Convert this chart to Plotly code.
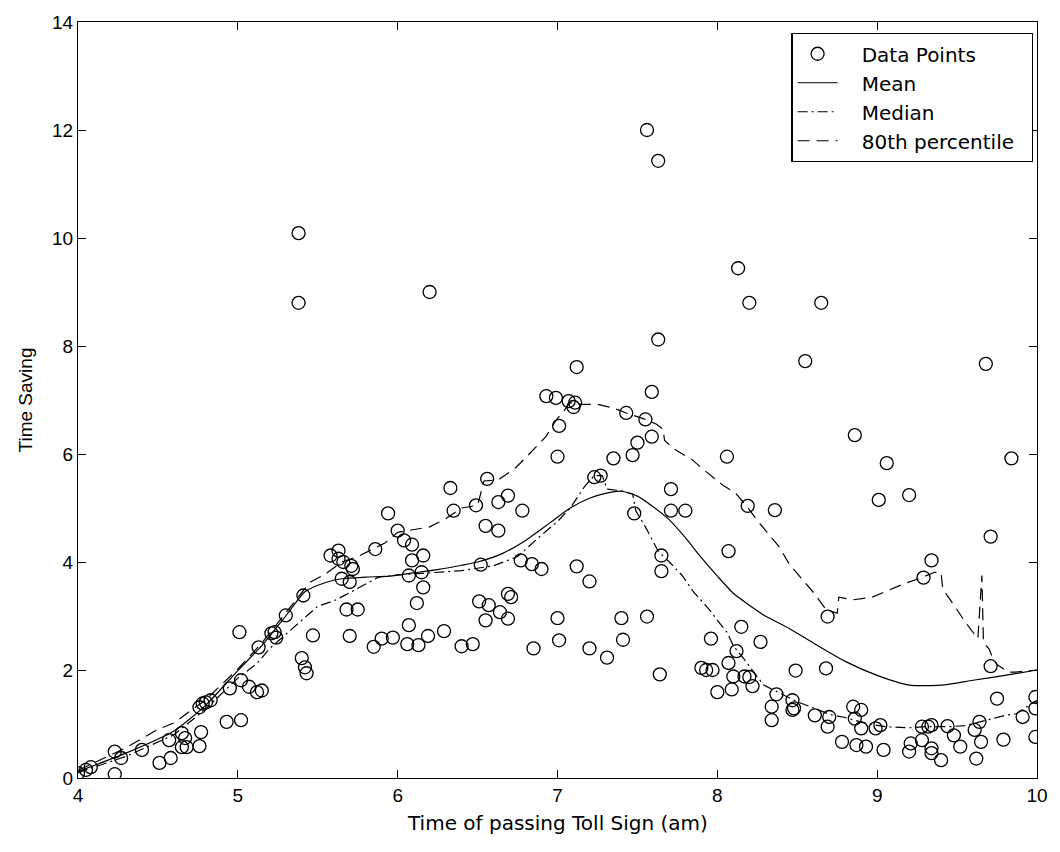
import plotly.graph_objects as go

# Observed time savings by time of passing the toll sign
pts_x = [4.00, 4.05, 4.08, 4.23, 4.23, 4.27, 4.40, 4.51, 4.58, 4.57, 4.65, 4.67, 4.65, 4.68,
         4.76, 4.77, 4.76, 4.78, 4.80, 4.83, 4.93, 5.02, 4.95, 5.02, 5.07, 5.12, 5.15, 5.01,
         5.13, 5.21, 5.24, 5.23, 5.30, 5.41, 5.40, 5.42, 5.43, 5.47,
         5.38, 5.38,
         5.58, 5.63, 5.63, 5.66, 5.71, 5.72, 5.65, 5.70, 5.68, 5.75, 5.70,
         5.86, 5.94, 6.00, 6.04, 6.09, 6.16, 6.09, 6.07, 6.15, 6.16, 6.12, 6.07, 5.85, 5.90,
         5.97, 6.06, 6.13, 6.19, 6.29, 6.20,
         6.33, 6.35, 6.49, 6.56, 6.63, 6.69, 6.78, 6.55, 6.63, 6.52, 6.77, 6.84, 6.90, 6.51,
         6.57, 6.64, 6.69, 6.55, 6.69, 6.71, 6.40, 6.47, 6.85,
         7.12, 6.93, 6.99, 7.07, 7.11, 7.10, 7.43, 7.55, 7.01, 7.59, 7.59, 7.50, 7.47, 7.00,
         7.35, 7.23, 7.27, 7.71, 7.71, 7.80, 7.48, 7.65, 7.65, 7.12, 7.20, 7.00, 7.40, 7.56,
         7.01, 7.41, 7.20, 7.31, 7.64, 7.56, 7.63, 7.63,
         8.06, 8.19, 8.36, 8.07, 7.96, 8.15, 8.27, 8.12, 7.90, 7.93, 7.97, 8.07, 8.10, 8.17,
         8.20, 8.22, 8.00, 8.09, 8.37, 8.34, 8.34, 8.47, 8.47, 8.48, 8.49, 8.13, 8.20, 8.65, 8.55,
         8.68, 8.61, 8.70, 8.69, 8.85, 8.90, 8.86, 8.90, 8.99, 9.02, 8.78, 8.87, 8.93, 9.04,
         9.21, 9.20, 9.28, 9.32, 9.34, 9.28, 9.34, 9.40, 9.34, 9.44, 9.48, 9.52, 9.61, 9.64,
         9.65, 9.62, 9.79, 9.71, 9.75, 9.91, 9.99, 9.99, 9.99, 8.69, 8.86, 9.06, 9.84, 9.01,
         9.20, 9.71, 9.34, 9.29, 9.68]
pts_y = [0.09, 0.15, 0.20, 0.49, 0.07, 0.37, 0.52, 0.28, 0.37, 0.70, 0.83, 0.74, 0.57, 0.57,
         0.59, 0.85, 1.31, 1.38, 1.40, 1.44, 1.04, 1.07, 1.66, 1.81, 1.69, 1.59, 1.62, 2.70,
         2.42, 2.68, 2.60, 2.70, 3.01, 3.38, 2.22, 2.05, 1.94, 2.64,
         10.09, 8.80,
         4.12, 4.21, 4.06, 4.00, 3.93, 3.87, 3.69, 3.63, 3.12, 3.12, 2.63,
         4.24, 4.90, 4.58, 4.40, 4.32, 4.12, 4.03, 3.75, 3.81, 3.53, 3.24, 2.83, 2.43, 2.58,
         2.60, 2.48, 2.46, 2.63, 2.72, 9.00,
         5.37, 4.95, 5.05, 5.54, 5.11, 5.23, 4.95, 4.67, 4.58, 3.95, 4.03, 3.96, 3.87, 3.27,
         3.20, 3.07, 2.95, 2.92, 3.41, 3.35, 2.44, 2.48, 2.40,
         7.61, 7.07, 7.04, 6.98, 6.95, 6.87, 6.76, 6.64, 6.52, 7.15, 6.32, 6.21, 5.98, 5.95,
         5.92, 5.57, 5.60, 5.35, 4.95, 4.95, 4.90, 4.12, 3.83, 3.92, 3.64, 2.96, 2.96, 2.99,
         2.55, 2.56, 2.40, 2.23, 1.92, 12.00, 11.43, 8.12,
         5.95, 5.04, 4.96, 4.20, 2.58, 2.80, 2.52, 2.35, 2.04, 2.00, 2.00, 2.13, 1.88, 1.88,
         1.87, 1.70, 1.59, 1.64, 1.55, 1.32, 1.07, 1.44, 1.26, 1.29, 1.99, 9.44, 8.80, 8.80, 7.72,
         2.03, 1.16, 1.13, 0.95, 1.32, 1.26, 1.10, 0.92, 0.92, 0.98, 0.67, 0.61, 0.58, 0.52,
         0.64, 0.49, 0.95, 0.95, 0.98, 0.70, 0.55, 0.33, 0.46, 0.96, 0.79, 0.58, 0.89, 1.04,
         0.67, 0.36, 0.71, 2.07, 1.47, 1.13, 1.50, 1.29, 0.76, 2.99, 6.35, 5.83, 5.92, 5.15,
         5.24, 4.47, 4.03, 3.71, 7.67]

# Mean curve
mean_x = [4.0, 4.3, 4.6, 4.8, 5.0, 5.15, 5.3, 5.42, 5.55, 5.65, 5.8, 5.95, 6.1, 6.25, 6.4,
          6.5, 6.65, 6.8, 6.95, 7.08, 7.2, 7.3, 7.4, 7.5, 7.6, 7.7, 7.8, 7.9, 8.0, 8.1, 8.2,
          8.3, 8.45, 8.6, 8.8, 9.0, 9.2, 9.4, 9.6, 9.8, 10.0]
mean_y = [0.12, 0.46, 0.87, 1.35, 1.99, 2.45, 3.0, 3.45, 3.62, 3.69, 3.72, 3.74, 3.80, 3.86,
          3.94, 4.0, 4.15, 4.40, 4.72, 5.0, 5.18, 5.27, 5.31, 5.22, 5.02, 4.78, 4.45, 4.08,
          3.74, 3.42, 3.20, 3.0, 2.77, 2.50, 2.16, 1.90, 1.72, 1.72, 1.81, 1.90, 2.00]

# Median curve
med_x = [4.0, 4.3, 4.6, 4.8, 5.0, 5.12, 5.2, 5.35, 5.45, 5.5, 5.6, 5.68, 5.8, 5.88, 6.0,
         6.2, 6.4, 6.6, 6.75, 6.9, 7.0, 7.08, 7.17, 7.23, 7.28, 7.31, 7.4, 7.47, 7.49, 7.55,
         7.63, 7.7, 7.78, 7.85, 7.95, 8.0, 8.06, 8.1, 8.17, 8.29, 8.4, 8.5, 8.6, 8.7, 8.8,
         8.93, 9.05, 9.2, 9.3, 9.45, 9.55, 9.68, 9.8, 9.87, 9.94, 10.0]
med_y = [0.10, 0.40, 0.80, 1.28, 1.85, 2.12, 2.40, 2.80, 3.05, 3.18, 3.28, 3.40, 3.60, 3.72,
         3.76, 3.80, 3.84, 3.93, 4.10, 4.50, 4.75, 5.00, 5.40, 5.60, 5.60, 5.35, 5.32, 5.26,
         4.95, 4.65, 4.20, 4.00, 3.75, 3.45, 3.12, 2.92, 2.70, 2.45, 2.19, 1.72, 1.55, 1.41,
         1.30, 1.18, 1.12, 1.01, 0.95, 0.93, 0.95, 0.95, 0.97, 1.07, 1.16, 1.19, 1.32, 1.44]

# 80th percentile curve
p80_x = [4.0, 4.3, 4.5, 4.6, 4.8, 5.0, 5.15, 5.3, 5.45, 5.55, 5.65, 5.75, 5.85, 5.92, 6.0,
         6.1, 6.2, 6.3, 6.4, 6.5, 6.54, 6.63, 6.74, 6.8, 6.93, 6.99, 7.08, 7.15, 7.25, 7.35,
         7.43, 7.55, 7.62, 7.66, 7.67, 7.73, 7.84, 7.91, 8.04, 8.11, 8.19, 8.25, 8.32, 8.39,
         8.45, 8.51, 8.6, 8.68, 8.75, 8.76, 8.85, 8.97, 9.09, 9.17, 9.26, 9.36, 9.40, 9.41,
         9.49, 9.55, 9.63, 9.655, 9.665, 9.70, 9.72, 9.75, 9.82, 9.86, 10.0]
p80_y = [0.14, 0.56, 0.90, 1.02, 1.45, 2.02, 2.50, 3.05, 3.62, 3.78, 4.00, 4.10, 4.24, 4.35,
         4.55, 4.60, 4.65, 4.80, 5.00, 5.05, 5.50, 5.52, 5.75, 5.93, 6.33, 6.62, 6.95, 6.92,
         6.92, 6.85, 6.76, 6.64, 6.55, 6.46, 6.25, 6.09, 5.90, 5.72, 5.41, 5.29, 5.01, 4.77,
         4.52, 4.27, 3.96, 3.75, 3.44, 3.12, 3.05, 3.35, 3.30, 3.35, 3.50, 3.60, 3.69, 3.81,
         3.80, 3.50, 3.16, 2.89, 2.58, 3.75, 2.50, 2.39, 2.24, 2.10, 1.96, 1.96, 2.00]

FONT = "Liberation Sans, Arial, sans-serif"
WIDE = "DejaVu Sans, Verdana, sans-serif"
PAD = "\u00a0\u00a0\u00a0"

fig = go.Figure()
fig.add_trace(go.Scatter(
    x=pts_x, y=pts_y, mode="markers", name=PAD + "Data Points",
    marker=dict(symbol="circle-open", size=13, color="black", line=dict(width=1.3, color="black")),
))
fig.add_trace(go.Scatter(
    x=mean_x, y=mean_y, mode="lines", name=PAD + "Mean",
    line=dict(color="black", width=1.2, shape="spline", smoothing=0.6),
))
fig.add_trace(go.Scatter(
    x=med_x, y=med_y, mode="lines", name=PAD + "Median",
    line=dict(color="black", width=1.2, dash="10px,4px,2px,4px"),
))
fig.add_trace(go.Scatter(
    x=p80_x, y=p80_y, mode="lines", name=PAD + "80th percentile\u00a0\u00a0",
    line=dict(color="black", width=1.2, dash="12px,7px"),
))

axis_common = dict(
    showgrid=False, zeroline=False, showline=True, linecolor="black", linewidth=1.3,
    mirror="ticks", ticks="inside", ticklen=8, tickwidth=1.2, tickcolor="black",
    tickfont=dict(family=FONT, size=19, color="black"),
)

fig.update_layout(
    width=1060, height=852,
    margin=dict(l=78, r=18, t=20, b=74),
    paper_bgcolor="white", plot_bgcolor="white",
    font=dict(family=FONT, size=19, color="black"),
    xaxis=dict(range=[4, 10], dtick=1, ticklabelstandoff=0, **axis_common),
    yaxis=dict(range=[0, 14], dtick=2, title=dict(text="Time Saving",
               font=dict(family=FONT, size=19), standoff=14), **axis_common),
    legend=dict(x=0.7438, y=0.9855, xanchor="left", yanchor="top",
                bgcolor="white", bordercolor="black", borderwidth=1.3,
                font=dict(family=WIDE, size=20), tracegroupgap=0, itemwidth=40),
    showlegend=True,
    annotations=[dict(
        text="Time of passing Toll Sign (am)", xref="paper", yref="paper",
        x=0.5, y=-(823 - 778) / 758, xanchor="center", yanchor="middle",
        showarrow=False, font=dict(family=WIDE, size=20, color="black"),
    )],
)

fig.write_html("out.html")
